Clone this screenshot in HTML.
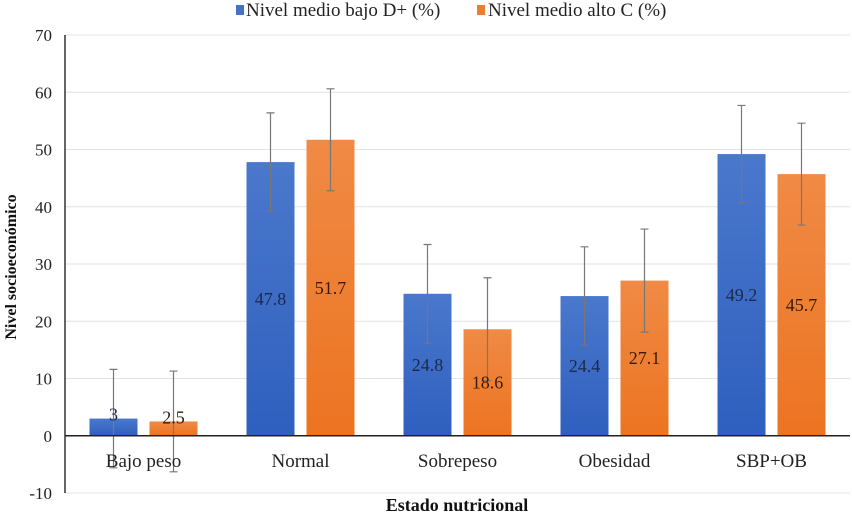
<!DOCTYPE html>
<html><head><meta charset="utf-8"><style>
body{margin:0;background:#fff}
svg{display:block;font-family:"Liberation Serif",serif}
</style></head><body>
<svg id="chart" width="852" height="515">
<defs>
<linearGradient id="gb" x1="0" y1="0" x2="0" y2="1"><stop offset="0" stop-color="#4a78cc"/><stop offset="1" stop-color="#2f5fbf"/></linearGradient>
<linearGradient id="go" x1="0" y1="0" x2="0" y2="1"><stop offset="0" stop-color="#f08a45"/><stop offset="1" stop-color="#ec7421"/></linearGradient>
</defs>
<g id="legend">
<g><rect x="236" y="5" width="8" height="10" fill="#4472c4"/><text x="246" y="16" font-size="19" fill="#222">Nivel medio bajo D+ (%)</text></g>
<g><rect x="477" y="5" width="8" height="10" fill="#ed7d31"/><text x="488" y="16" font-size="19" fill="#222">Nivel medio alto C (%)</text></g>
</g>
<g id="grid"></g><g id="bars"></g><g id="axes"></g>
<text x="457" y="511" text-anchor="middle" font-size="18" font-weight="bold" fill="#111">Estado nutricional</text>
<text transform="translate(16,267) rotate(-90)" text-anchor="middle" font-size="16" font-weight="bold" fill="#111">Nivel socioeconómico</text>
</svg>
<script>
const categories=["Bajo peso","Normal","Sobrepeso","Obesidad","SBP+OB"];
const seriesD=[3,47.8,24.8,24.4,49.2];
const seriesC=[2.5,51.7,18.6,27.1,45.7];
const errD=[8.6,8.6,8.6,8.6,8.5];
const errC=[8.8,8.9,9,9,8.9];
const yTicks=[-10,0,10,20,30,40,50,60,70];
const NS="http://www.w3.org/2000/svg";
const x0=65,x1=850,yTop=35,yBot=493,vMin=-10,vMax=70;
function y(v){return yBot-(v-vMin)/(vMax-vMin)*(yBot-yTop);}
function cx(i){return x0+(x1-x0)/categories.length*(i+0.5);}
function mk(tag,at,parent,txt){const e=document.createElementNS(NS,tag);for(const k in at)e.setAttribute(k,at[k]);if(txt!==undefined)e.textContent=txt;parent.appendChild(e);return e;}
const grid=document.getElementById('grid'),bars=document.getElementById('bars'),axes=document.getElementById('axes');
yTicks.forEach(t=>{
 const l=mk('line',{x1:x0,x2:x1,y1:y(t),y2:y(t),stroke:'#e3e3e3','stroke-width':1},grid);
 
 
 const tx=mk('text',{x:52,y:y(t)+6,'text-anchor':'end','font-size':17,fill:'#222'},axes,String(t));
 
 
});
const ax=mk('line',{x1:x0,x2:x0,y1:yTop,y2:yBot,stroke:'#333','stroke-width':1.5},axes);


const zx=mk('line',{x1:x0,x2:x1,y1:y(0),y2:y(0),stroke:'#222','stroke-width':1.5},axes);


function drawBar(i,v,e,off,fill,tc,name){
 const bx=cx(i)+off,w=48,top=y(Math.max(v,0)),h=Math.abs(y(v)-y(0));
 const r=mk('rect',{x:bx,y:top,width:w,height:h,fill:fill},bars);
 
 
 const m=bx+w/2;
 const el=mk('path',{d:`M${m},${y(v+e)}V${y(v-e)}M${m-4},${y(v+e)}H${m+4}M${m-4},${y(v-e)}H${m+4}`,stroke:'#777','stroke-width':1.2,fill:'none'},bars);
 
 
 const ly=h<25?top+2:top+h/2+6;
 const t=mk('text',{x:m,y:ly,'text-anchor':'middle','font-size':18,fill:tc},bars,String(v));
 
 
}
categories.forEach((c,i)=>{
 drawBar(i,seriesD[i],errD[i],-54,'url(#gb)','#1a2a4a','bar-d-'+i);
 drawBar(i,seriesC[i],errC[i],6,'url(#go)','#3a1a08','bar-c-'+i);
 const t=mk('text',{x:cx(i),y:y(0)+31,'text-anchor':'middle','font-size':19,fill:'#222'},axes,c);
 
 
});
</script>
</body></html>
